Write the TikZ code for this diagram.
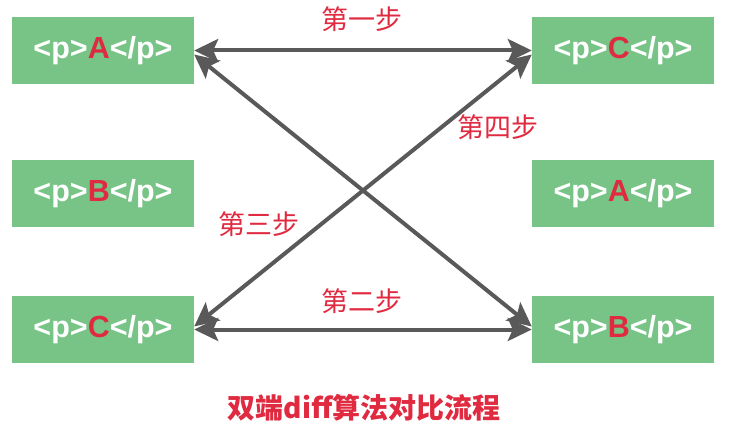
\documentclass[tikz,border=0pt]{standalone}
\usepackage{fontspec}
\setmainfont{Liberation Sans}
\newfontfamily\cjk{Noto Sans CJK SC}
\usepackage{xcolor}
\usetikzlibrary{arrows.meta}
\definecolor{boxgreen}{HTML}{78C487}
\definecolor{stepred}{HTML}{E02A40}
\definecolor{linegray}{HTML}{595959}
\newcommand{\ptag}[1]{\textless p\textgreater\textcolor{stepred}{#1}\textless/p\textgreater}

\begin{document}
\begin{tikzpicture}[x=1pt, y=1pt,
  pbox/.style={fill=boxgreen, minimum width=182pt, minimum height=67pt,
    inner sep=0pt, text=white, font=\fontsize{30.5}{31}\selectfont\bfseries},
  diffline/.style={line width=4pt, draw=linegray,
    {Stealth[length=24pt, width=23pt, inset=5pt]}-{Stealth[length=24pt, width=23pt, inset=5pt]}},
  steptext/.style={text=stepred, font=\cjk\fontsize{27}{28}\selectfont}
]
\useasboundingbox (0,0) rectangle (740,432);

% old children on the left, new children on the right
\path
(103,381.5) node[pbox] (leftA)  {\ptag{A}}
(103,238.5) node[pbox] (leftB)  {\ptag{B}}
(103,102.5) node[pbox] (leftC)  {\ptag{C}}
(623,381.5) node[pbox] (rightC) {\ptag{C}}
(623,238.5) node[pbox] (rightA) {\ptag{A}}
(623,102.5) node[pbox] (rightB) {\ptag{B}};

\draw[diffline] (leftA.east) -- (rightC.west);
\draw[diffline] (leftC.east) -- (rightB.west);
\draw[diffline] ([yshift=-4pt]leftA.east) -- ([yshift=3pt]rightB.west);
\draw[diffline] ([yshift=3pt]leftC.east) -- ([yshift=-4pt]rightC.west);

\node[steptext] (step1) at (362,413) {第一步};
\node[steptext] (step2) at (362,130.5) {第二步};
\node[steptext] (step3) at (259,208) {第三步};
\node[steptext] (step4) at (497.5,305) {第四步};

\node[text=stepred, font=\cjk\fontsize{28}{29}\selectfont\bfseries] (title) at (364,24) {双端diff算法对比流程};

\end{tikzpicture}
\end{document}
